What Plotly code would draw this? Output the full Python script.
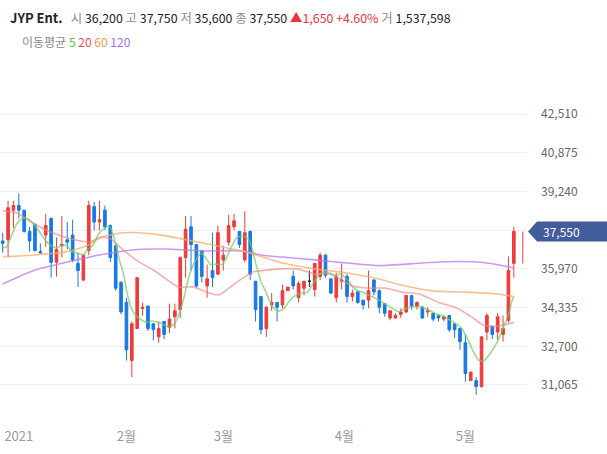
import plotly.graph_objects as go

# ---------------- data ----------------
opens = [37150, 37200, 38450, 38650, 38450, 37550, 37850, 36700, 37400, 38100,
         36250, 36950, 37200, 37400, 36200, 35500, 36750, 38600, 37950, 38450,
         37800, 36950, 35400, 34550, 32100, 33450, 34300, 34400, 33650, 33100,
         33750, 33500, 33950, 34250, 36450, 37750, 37000, 36750, 35250, 35900,
         35750, 36350, 37100, 37750, 37550, 36350, 37550, 35450, 34800, 33450,
         34450, 34550, 34450, 35050, 35650, 34750, 35150, 35450, 35100, 35650,
         36550, 35550, 34750, 35450, 35650, 34800, 35000, 34650, 34650, 35500,
         35050, 34500, 33900, 33900, 34050, 34150, 34850, 34400, 34350, 34150,
         34100, 34000, 33850, 34000, 33650, 33450, 32850, 31250, 31250, 31000,
         33300, 33550, 33300, 33200, 33800, 36200]
highs = [37500, 38850, 38850, 39150, 38450, 37750, 37900, 37050, 38300, 38150,
         37300, 38200, 37950, 38050, 36650, 36600, 38850, 38800, 38850, 38650,
         37850, 37000, 35450, 34750, 33750, 35600, 34550, 34400, 33650, 33750,
         33750, 34500, 34500, 36500, 38200, 38200, 37000, 36750, 36150, 37500,
         37800, 36950, 38250, 38300, 37550, 38400, 37600, 35450, 34800, 34400,
         34950, 34550, 35300, 35200, 35900, 35450, 35450, 35900, 36200, 36650,
         36600, 35550, 35800, 36200, 35750, 35100, 35050, 34650, 35900, 35550,
         35100, 34500, 34200, 34100, 34300, 34850, 34850, 34600, 34400, 34350,
         34100, 34000, 34000, 34000, 33650, 33450, 33200, 31650, 31400, 33100,
         34100, 33550, 34100, 34000, 36500, 37750]
lows = [36650, 36450, 37700, 38100, 37500, 36700, 36700, 36600, 36900, 35600,
        35650, 36450, 36800, 36250, 35200, 35450, 36550, 37600, 37600, 37600,
        36250, 35050, 34050, 32100, 31400, 33450, 34000, 33350, 32950, 32850,
        33000, 33250, 33450, 33900, 35600, 35900, 35150, 35400, 34750, 35200,
        35700, 35900, 36950, 37600, 36850, 36250, 35500, 33750, 33200, 33100,
        34200, 33750, 34300, 35050, 35100, 34550, 34850, 35200, 34800, 35500,
        35600, 34900, 34550, 35100, 34550, 34600, 34500, 34250, 34300, 34850,
        34100, 33950, 33800, 33850, 33900, 34100, 34250, 34250, 33850, 33950,
        33750, 33750, 33750, 33300, 33050, 32550, 31200, 31250, 30650, 30950,
        32950, 33000, 32950, 32900, 33700, 35600]
closes = [37050, 38550, 38650, 38450, 37550, 37150, 36750, 36650, 37800, 36250,
          36800, 37000, 37100, 36350, 35900, 36550, 38650, 37950, 38050, 37750,
          36450, 35150, 34150, 32550, 33650, 35600, 34350, 33450, 33400, 33450,
          33200, 33850, 34200, 36450, 37650, 37000, 35250, 35650, 35550, 35600,
          37500, 36550, 37800, 38000, 37000, 37500, 35750, 34250, 33400, 34350,
          34550, 34350, 35050, 35200, 35250, 35350, 35450, 35450, 36200, 36550,
          35700, 34950, 35650, 35500, 34800, 34950, 34550, 34450, 35050, 35000,
          34350, 34100, 34200, 34000, 34150, 34850, 34400, 34550, 33900, 34200,
          33850, 33900, 33950, 33400, 33400, 32900, 31550, 31600, 31000, 33100,
          34000, 33200, 33950, 33450, 35900, 37550]
volume_last = 1537598

# moving averages (position index, value)
ma5_x = [0, 0.74, 1.67, 2.6, 3.5, 4.46, 5.39, 6.32, 7.25, 8.18, 9.1, 10.0, 10.97, 11.9,
         12.8, 13.75, 15.0, 15.7, 16.8, 17.7, 19.0, 19.9, 20.8, 21.7, 22.5, 23.2, 23.9,
         24.8, 25.8, 26.7, 27.6, 28.6, 29.5, 30.7, 31.7, 32.6, 33.5, 34.7, 35.9, 36.9,
         37.8, 38.7, 39.6, 40.9, 42.1, 43.4, 44.6, 45.8, 47.1, 48.0, 48.9, 49.5, 50.4,
         51.4, 52.3, 53.2, 54.1, 55.4, 56.6, 57.9, 59.1, 60.3, 61.6, 62.8, 64.1, 65.3,
         66.2, 67.4, 68.6, 69.9, 71.1, 72.4, 73.6, 74.2, 75.5, 76.7, 77.9, 79.2, 80.4,
         81.7, 83.1, 85.0, 86.2, 87.5, 88.4, 89.3, 90.6, 91.8, 93.0, 94.0, 94.6, 95]
ma5 = [36870, 36910, 37400, 37870, 38080, 38110, 37960, 37700, 37400, 37110, 36940, 36870,
       36940, 36980, 36700, 36650, 36560, 36770, 36980, 37400, 37710, 37750, 37190, 36350,
       35710, 34870, 34310, 33980, 33810, 33710, 33770, 33740, 33670, 33530, 33600, 33950,
       34580, 35710, 36350, 36630, 36420, 36140, 36170, 36170, 36700, 37260, 37370, 37190,
       36140, 35430, 35010, 34660, 34310, 34190, 34310, 34580, 34800, 34940, 34980, 35430,
       35780, 35830, 35710, 35740, 35500, 35150, 35040, 34940, 34800, 34660, 34480, 34310,
       34160, 34230, 34330, 34370, 34350, 34230, 34090, 33990, 33810, 33530, 33110, 32470,
       32120, 32080, 32400, 32830, 33460, 34020, 34580, 34800]
ma20_x = [0, 2.7, 5.6, 8.8, 12, 16.2, 18.3, 20.1, 22, 25.1, 28.3, 32.6, 35.4, 38.3, 40.2,
          42.8, 44.7, 46.5, 48.9, 54.7, 57.9, 61, 64.9, 68.1, 71.1, 74.2, 77.4, 81.3,
          84.4, 87.4, 89.3, 91.9, 95]
ma20 = [38440, 38330, 37910, 37540, 37290, 37110, 37320, 37230, 36850, 36300, 35880,
        35210, 35210, 34950, 34870, 35290, 35590, 35840, 35920, 35970, 35760, 35750,
        35250, 35160, 35160, 34990, 34910, 34530, 34320, 33900, 33600, 33540, 33710]
ma60_x = [0, 6, 12, 16, 18, 22, 25, 28, 33, 39, 45, 52, 58, 64, 70, 74, 80, 86, 92, 95]
ma60 = [36490, 36560, 36700, 36980, 37280, 37490, 37500, 37450, 37250, 36980, 36700,
        36220, 35970, 35800, 35540, 35290, 35040, 34990, 34910, 34800]
ma120_x = [0, 6, 12, 18, 24, 30, 37, 45, 48, 52, 58, 64, 70, 78, 84, 90, 95]
ma120 = [35330, 35920, 36260, 36560, 36770, 36810, 36730, 36730, 36560, 36470, 36350,
         36220, 36110, 36220, 36280, 36220, 36010]

month_pos = [3, 23, 41, 63.5, 86]
month_labels = ["2021", "2월", "3월", "4월", "5월"]
y_ticks = [31065, 32700, 34335, 35970, 37605, 39240, 40875, 42510]

# ---------------- styles ----------------
RED = "#ef3b3b"
BLUE = "#1778e6"
FONT = "Noto Sans CJK KR"

x = list(range(len(closes)))
is_doji = [o == c for o, c in zip(opens, closes)]

def pick(arr, keep):
    return [v if k else None for v, k in zip(arr, keep)]

normal = [not d for d in is_doji]

fig = go.Figure()
fig.add_trace(go.Candlestick(
    x=x, open=pick(opens, normal), high=pick(highs, normal),
    low=pick(lows, normal), close=pick(closes, normal),
    increasing=dict(line=dict(color=RED, width=1), fillcolor=RED),
    decreasing=dict(line=dict(color=BLUE, width=1), fillcolor=BLUE),
    whiskerwidth=0, hoverinfo="skip", showlegend=False))
fig.add_trace(go.Candlestick(
    x=x, open=pick(opens, is_doji), high=pick(highs, is_doji),
    low=pick(lows, is_doji), close=pick(closes, is_doji),
    increasing=dict(line=dict(color="#222222", width=1), fillcolor="#222222"),
    decreasing=dict(line=dict(color="#222222", width=1), fillcolor="#222222"),
    whiskerwidth=0, hoverinfo="skip", showlegend=False))

# current-day range marker to the right of the last candle
last = len(closes) - 1
fig.add_trace(go.Scatter(x=[last + 1.67, last + 1.67], y=[opens[last], closes[last]],
                         mode="lines", line=dict(color=RED, width=1),
                         hoverinfo="skip", showlegend=False))

for xs, ys, col in [(ma120_x, ma120, "rgba(180,120,245,0.75)"),
                    (ma60_x, ma60, "rgba(248,170,110,0.75)"),
                    (ma20_x, ma20, "rgba(245,130,130,0.65)"),
                    (ma5_x, ma5, "rgba(110,205,100,0.7)")]:
    fig.add_trace(go.Scatter(x=xs, y=ys, mode="lines",
                             line=dict(color=col, width=1.6, shape="spline", smoothing=0.6),
                             hoverinfo="skip", showlegend=False))

# ---------------- layout ----------------
PLOT_W = 527
PLOT_TOP, PLOT_BOT = 80, 420
PX = 42.25  # won per pixel
y_lo = 47331 - PX * PLOT_BOT
y_hi = 47331 - PX * PLOT_TOP

def fmt(v):
    return f"{v:,}"

fig.update_layout(
    width=607, height=454,
    margin=dict(l=0, r=607 - PLOT_W, t=PLOT_TOP, b=454 - PLOT_BOT),
    paper_bgcolor="white", plot_bgcolor="white",
    font=dict(family=FONT, color="#555"),
    xaxis=dict(range=[-0.5, 97.45], tickvals=month_pos, ticktext=month_labels,
               showgrid=False, zeroline=False, showline=False, ticks="",
               tickfont=dict(size=13, color="#9a9a9a"), rangeslider=dict(visible=False),
               ticklabelstandoff=7, fixedrange=True),
    yaxis=dict(side="right", range=[y_lo, y_hi], tickvals=y_ticks,
               ticktext=[fmt(v) if v != 37605 else "" for v in y_ticks],
               showgrid=True, gridcolor="#efefef", gridwidth=1, zeroline=False,
               showline=False, ticks="", tickfont=dict(size=12, color="#666"),
               ticklabelstandoff=13, fixedrange=True),
)

# header line
chg = closes[last] - closes[last - 1]
pct = chg / closes[last - 1] * 100
G = "#8a8a8a"
K = "#222"
sp = "\u00a0"
header = (f"<b><span style='color:{K};font-size:13px'>JYP Ent.</span></b>{sp*3}"
          f"<span style='color:{G}'>시</span>{sp}<span style='color:{K}'>{fmt(opens[last])}</span>{sp}"
          f"<span style='color:{G}'>고</span>{sp}<span style='color:{K}'>{fmt(highs[last])}</span>{sp}"
          f"<span style='color:{G}'>저</span>{sp}<span style='color:{K}'>{fmt(lows[last])}</span>{sp}"
          f"<span style='color:{G}'>종</span>{sp}<span style='color:{K}'>{fmt(closes[last])}</span>{sp}"
          f"<span style='color:#e8363c'>▲{fmt(chg)}{sp}+{pct:.2f}%</span>{sp}"
          f"<span style='color:{G}'>거</span>{sp}<span style='color:{K}'>{fmt(volume_last)}</span>")
fig.add_annotation(xref="paper", yref="paper", x=8 / PLOT_W, y=1, yshift=PLOT_TOP - 17,
                   xanchor="left", yanchor="middle", showarrow=False, text=header,
                   font=dict(size=12.4, family=FONT))
legend = (f"<span style='color:{G}'>이동평균</span>{sp}"
          f"<span style='color:#4dbf3f'>5</span>{sp}"
          f"<span style='color:#f0506a'>20</span>{sp}"
          f"<span style='color:#f5984c'>60</span>{sp}"
          f"<span style='color:#a56ff0'>120</span>")
fig.add_annotation(xref="paper", yref="paper", x=20 / PLOT_W, y=1, yshift=PLOT_TOP - 41,
                   xanchor="left", yanchor="middle", showarrow=False, text=legend,
                   font=dict(size=12, family=FONT))

# last price tag
c = closes[last]
h = 10 * PX
x_tip = 528 / PLOT_W
x_body = 537 / PLOT_W
x_end = 607 / PLOT_W
fig.add_shape(type="path", xref="paper", yref="y",
              path=f"M {x_tip},{c} L {x_body},{c + h} L {x_end},{c + h} L {x_end},{c - h} L {x_body},{c - h} Z",
              fillcolor="#435c9c", line=dict(width=0), layer="above")
fig.add_annotation(xref="paper", yref="y", x=541 / PLOT_W, y=c, xanchor="left", yanchor="middle",
                   showarrow=False, text=fmt(c), font=dict(size=12, color="white", family=FONT))

fig.write_html("out.html", config={"displayModeBar": False},
               post_script="document.body.style.margin='0px';")
